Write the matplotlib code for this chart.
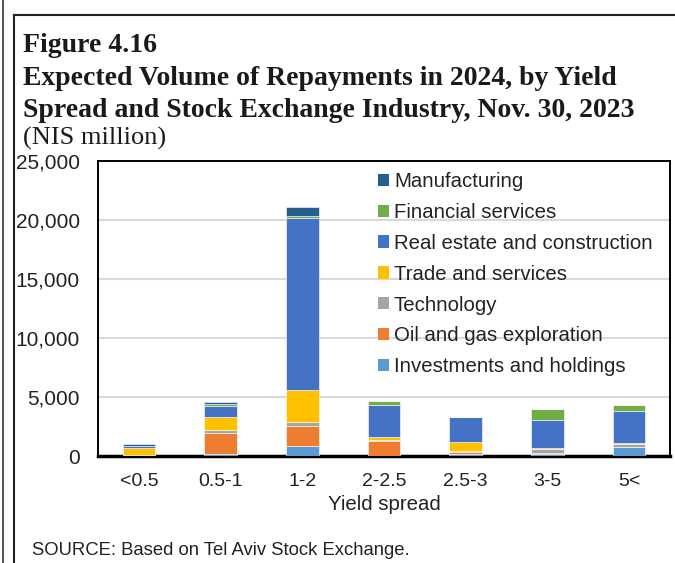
import numpy as np
import matplotlib.pyplot as plt
from matplotlib.lines import Line2D
from matplotlib.patches import Patch

plt.rcParams['font.family'] = ['Liberation Sans', 'DejaVu Sans']

categories = ['<0.5', '0.5-1', '1-2', '2-2.5', '2.5-3', '3-5', '5<']

# NIS million, stacked bottom to top
investments = [0, 170, 870, 0, 140, 200, 735]
oil_gas = [0, 1750, 1700, 1240, 200, 85, 40]
technology = [100, 280, 340, 110, 60, 340, 280]
trade = [560, 1100, 2680, 225, 790, 50, 85]
real_estate = [170, 960, 14600, 2710, 2120, 2340, 2650]
financial = [0, 170, 170, 370, 0, 960, 540]
manufacturing = [170, 140, 700, 0, 0, 0, 0]

series = [
    ('Investments and holdings', investments, '#5B9BD5'),
    ('Oil and gas exploration', oil_gas, '#ED7D31'),
    ('Technology', technology, '#A5A5A5'),
    ('Trade and services', trade, '#FFC000'),
    ('Real estate and construction', real_estate, '#4472C4'),
    ('Financial services', financial, '#70AD47'),
    ('Manufacturing', manufacturing, '#255E91'),
]

W, H = 675, 563
fig = plt.figure(figsize=(W / 100, H / 100), dpi=100)

def fx(px):
    return px / W

def fy(py):
    return 1 - py / H

ax = fig.add_axes([fx(98), fy(456), fx(670) - fx(98), fy(161) - fy(456)])

x = np.arange(len(categories))
bottom = np.zeros(len(categories))
for name, vals, color in series:
    vals = np.array(vals, dtype=float)
    ax.bar(x, vals, 0.4, bottom=bottom, color=color, edgecolor='white',
           linewidth=0.4, label=name, zorder=3)
    bottom += vals

ax.set_xlim(-0.5, len(categories) - 0.5)
ax.set_ylim(0, 25000)
ax.set_yticks(np.arange(0, 25001, 5000))
ax.set_yticklabels([f'{v:,}' for v in range(0, 25001, 5000)])
ax.set_xticks(x)
ax.set_xticklabels(categories)
ax.tick_params(length=0, labelsize=14, colors='#222222')
ax.tick_params(axis='y', labelsize=15, pad=13)
ax.tick_params(axis='x', pad=12)
ax.yaxis.grid(True, color='#D9D9D9', linewidth=1.5, zorder=0)
ax.set_axisbelow(True)
for s in ax.spines.values():
    s.set_color('black')
    s.set_linewidth(1.4)
ax.spines['bottom'].set_linewidth(2.5)
ax.set_xlabel('Yield spread', fontsize=14.7, color='#222222', labelpad=4)

handles = [Patch(facecolor=c, edgecolor='none') for _, _, c in series][::-1]
labels = [n for n, _, _ in series][::-1]
leg = ax.legend(handles, labels, loc='upper left',
                bbox_to_anchor=(fx(370), fy(164)), bbox_transform=fig.transFigure,
                frameon=False, fontsize=14.7, handlelength=0.55, handleheight=0.55,
                handletextpad=0.22, labelspacing=0.58, borderaxespad=0)
for t in leg.get_texts():
    t.set_color('#222222')

# titles
serif = 'Liberation Serif'
fig.text(fx(23), fy(52), 'Figure 4.16', fontsize=20, fontweight='bold',
         family=serif, color='#1a1a1a', va='baseline')
fig.text(fx(23), fy(85), 'Expected Volume of Repayments in 2024, by Yield',
         fontsize=20, fontweight='bold', family=serif, color='#1a1a1a', va='baseline')
fig.text(fx(23), fy(117), 'Spread and Stock Exchange Industry, Nov. 30, 2023',
         fontsize=20, fontweight='bold', family=serif, color='#1a1a1a', va='baseline')
fig.text(fx(23), fy(145), '(NIS million)', fontsize=19, family=serif,
         color='#1a1a1a', va='baseline')
fig.text(fx(32), fy(555), 'SOURCE: Based on Tel Aviv Stock Exchange.',
         fontsize=13.3, color='#222222', va='baseline')

# outer frame lines
fig.add_artist(Line2D([fx(3), fx(3)], [0, 1], color='#333333', lw=1.2))
fig.add_artist(Line2D([fx(13.5), fx(13.5)], [0, fy(15)], color='#222222', lw=1.5))
fig.add_artist(Line2D([fx(13.5), 1], [fy(15), fy(15)], color='#222222', lw=1.5))

fig.savefig('out.png', dpi=100)
